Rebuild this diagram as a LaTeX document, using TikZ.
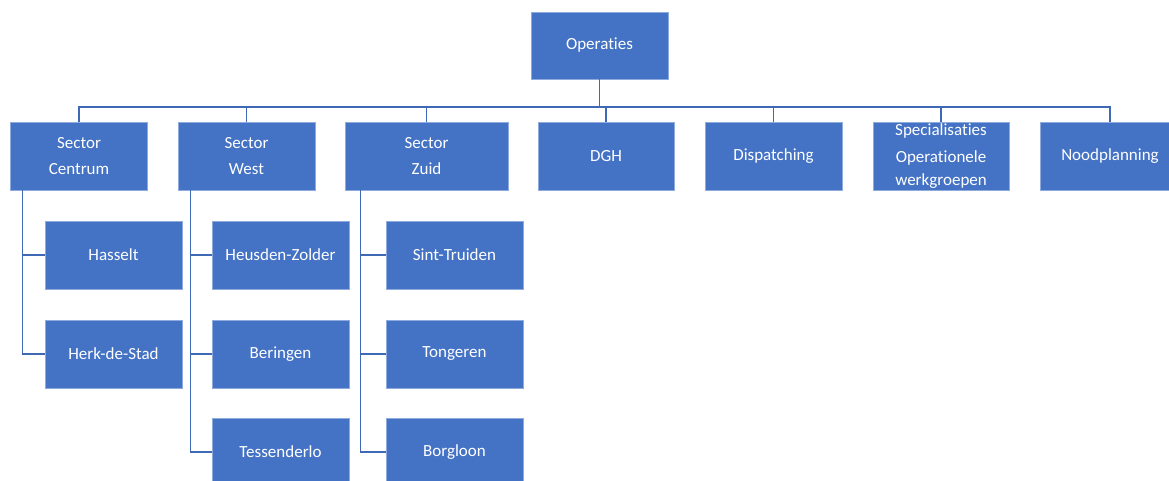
\documentclass[tikz,border=0pt]{standalone}
\usepackage{fontspec}
\setmainfont{Carlito}[Ligatures=NoCommon]
\definecolor{boxblue}{HTML}{4472C4}
\definecolor{lineblue}{HTML}{3F68B5}
\tikzset{
  orgbox/.style={rectangle, fill=boxblue, draw=boxblue!60!white, line width=0.6pt,
    text=white, align=center, inner sep=2pt,
    font=\fontsize{17}{26}\selectfont},
  topbox/.style={orgbox, minimum width=137pt, minimum height=68pt},
  conn/.style={draw=lineblue, line width=1.3pt},
}
\begin{document}
\begin{tikzpicture}[x=1pt,y=-1pt]
\useasboundingbox (0,0) rectangle (1169,481);
\clip (0,0) rectangle (1169,481);
% top
\node[orgbox, minimum width=137pt, minimum height=67pt] (ops) at (599.5,45.5) {Operaties};
% second row
\node[topbox] (sc) at (79,156) {Sector\\Centrum};
\node[topbox] (sw) at (246.5,156) {Sector\\West};
\node[topbox, minimum width=163pt] (sz) at (426.5,156) {Sector\\Zuid};
\node[topbox, minimum width=136pt] (dgh) at (606,156) {DGH};
\node[topbox] (disp) at (773.5,156) {Dispatching};
\node[topbox, minimum width=136pt, inner sep=0pt, font=\fontsize{17}{23}\selectfont] (spec) at (941,156) {Specialisaties\\[4pt]Operationele\\werkgroepen};
\node[topbox, minimum width=140pt] (nood) at (1110,156) {Noodplanning};
% children
\node[topbox] (has) at (113.5,255) {Hasselt};
\node[topbox] (herk) at (113.5,354) {Herk-de-Stad};
\node[topbox] (heus) at (280.5,255) {Heusden-Zolder};
\node[topbox] (ber) at (280.5,354) {Beringen};
\node[topbox] (tes) at (280.5,452) {Tessenderlo};
\node[topbox] (sint) at (454.5,255) {Sint-Truiden};
\node[topbox] (ton) at (454.5,354) {Tongeren};
\node[topbox] (borg) at (454.5,452) {Borgloon};
% bus
\coordinate (bus) at (0,107);
\draw[conn] (ops.south) -- (ops.south |- bus);
\draw[conn] (sc.north) -- (sc.north |- bus) -- (nood.north |- bus) -- (nood.north);
\foreach \n in {sw,sz,dgh,disp,spec} \draw[conn] (\n.north) -- (\n.north |- bus);
% sector children
\coordinate (cL) at ([xshift=12pt]sc.south west);
\coordinate (wL) at ([xshift=13pt]sw.south west);
\coordinate (zL) at ([xshift=16pt]sz.south west);
\draw[conn] (cL) |- (herk.west);
\draw[conn] (cL |- has.west) -- (has.west);
\draw[conn] (wL) |- (tes.west);
\draw[conn] (wL |- heus.west) -- (heus.west);
\draw[conn] (wL |- ber.west) -- (ber.west);
\draw[conn] (zL) |- (borg.west);
\draw[conn] (zL |- sint.west) -- (sint.west);
\draw[conn] (zL |- ton.west) -- (ton.west);
\end{tikzpicture}
\end{document}
